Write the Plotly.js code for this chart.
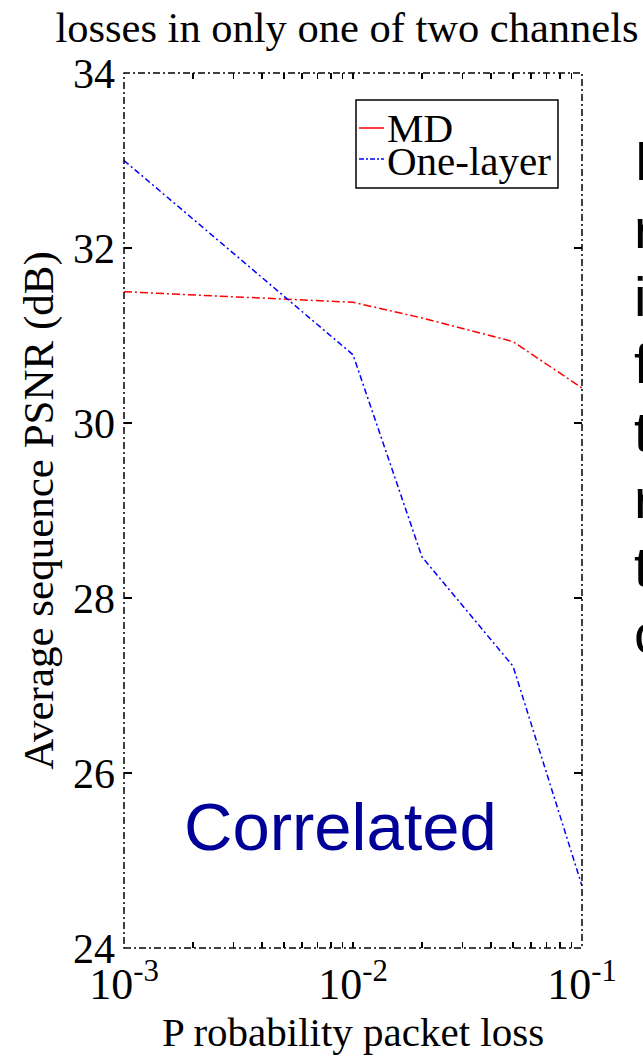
<!DOCTYPE html>
<html>
<head>
<meta charset="utf-8">
<script src="https://cdn.plot.ly/plotly-3.0.1.min.js"></script>
<style>html,body{margin:0;padding:0;background:#fff;}#chart{width:643px;height:1061px;}</style>
</head>
<body>
<div id="chart"></div>
<script>
// ---- data ----
const lossProb = [0.001, 0.01, 0.02, 0.05, 0.1];
const mdPSNR = [31.5, 31.38, 31.2, 30.93, 30.4];
const oneLayerPSNR = [33.0, 30.78, 28.47, 27.22, 24.71];
const seriesNames = ['MD', 'One-layer'];
const yTickVals = [24, 26, 28, 30, 32, 34];
const xMajorTicks = [0.001, 0.01, 0.1];
const xMajorLabels = ['10<sup>-3</sup>', '10<sup>-2</sup>', '10<sup>-1</sup>'];
const sideLetters = ['I', 'r', 'i', 'f', 't', 'r', 't', 'c'];

// ---- layout geometry (pixels) ----
const W = 643, H = 1061;
const M = {l: 124, r: 61, t: 73, b: 113};
const PW = W - M.l - M.r, PH = H - M.t - M.b;
const px = x => (x - M.l) / PW;
const py = y => (H - M.b - y) / PH;

// x ticks: all log minor positions, labels only on decades
const xTickVals = [], xTickText = [];
[0.001, 0.01].forEach(d => {
  for (let k = 1; k <= 9; k++) {
    const v = d * k;
    xTickVals.push(v);
    const idx = xMajorTicks.findIndex(m => Math.abs(m - v) < 1e-12);
    xTickText.push(idx >= 0 ? xMajorLabels[idx] : '');
  }
});
xTickVals.push(0.1); xTickText.push(xMajorLabels[2]);

const serif = 'Liberation Serif, Times New Roman, serif';
const dashdot = '8px,3px,2px,3px';

const traces = [
  {x: lossProb, y: mdPSNR, name: seriesNames[0], mode: 'lines', showlegend: false,
   line: {color: '#ff0000', width: 1.5, dash: dashdot}},
  {x: lossProb, y: oneLayerPSNR, name: seriesNames[1], mode: 'lines', showlegend: false,
   line: {color: '#0000ff', width: 1.5, dash: '6px,3px,2px,3px'}}
];

const shapes = [
  // dash-dot frame
  {type: 'rect', xref: 'paper', yref: 'paper', x0: 0, x1: 1, y0: 0, y1: 1,
   line: {color: '#000', width: 1.5, dash: '7px,3px,2px,3px'}},
  // legend box
  {type: 'rect', xref: 'paper', yref: 'paper', x0: px(356), x1: px(558), y0: py(188), y1: py(100),
   line: {color: '#000', width: 1.5}, fillcolor: 'rgba(255,255,255,1)', layer: 'above'},
  {type: 'line', xref: 'paper', yref: 'paper', x0: px(359), x1: px(384), y0: py(128), y1: py(128),
   line: {color: '#ff0000', width: 1.5}},
  {type: 'line', xref: 'paper', yref: 'paper', x0: px(359), x1: px(384), y0: py(159), y1: py(159),
   line: {color: '#0000ff', width: 1.5, dash: '5px,2px,2px,2px'}}
];

const annotations = [
  {text: seriesNames[0], xref: 'paper', yref: 'paper', x: px(385), y: py(128), xanchor: 'left', yanchor: 'middle',
   showarrow: false, font: {family: serif, size: 41, color: '#000'}},
  {text: seriesNames[1], xref: 'paper', yref: 'paper', x: px(385), y: py(161), xanchor: 'left', yanchor: 'middle',
   showarrow: false, font: {family: serif, size: 41, color: '#000'}},
  {text: 'Correlated', xref: 'paper', yref: 'paper', x: px(340), y: py(826), xanchor: 'center', yanchor: 'middle',
   showarrow: false, font: {family: 'Liberation Sans, Arial, sans-serif', size: 67, color: '#000099'}}
];
const baselines = [179, 247, 315, 383, 450, 517, 585, 652];
sideLetters.forEach((ch, i) => {
  annotations.push({text: ch, xref: 'paper', yref: 'paper', x: px(632), y: py(baselines[i] - 19),
    xanchor: 'left', yanchor: 'middle', showarrow: false,
    font: {family: 'Liberation Sans, Arial, sans-serif', size: 56, color: '#000'}});
});

const layout = {
  width: W, height: H,
  margin: M,
  paper_bgcolor: '#fff', plot_bgcolor: '#fff',
  showlegend: false,
  title: {text: 'losses in only one of two channels', x: px(347), xref: 'paper', xanchor: 'center',
          y: 1 - 27 / H, yref: 'container', yanchor: 'middle',
          font: {family: serif, size: 42.5, color: '#000'}},
  xaxis: {
    type: 'log', range: [-3, -1],
    tickmode: 'array', tickvals: xTickVals, ticktext: xTickText,
    ticks: 'inside', ticklen: 6, tickwidth: 1.5, tickcolor: '#000', mirror: 'allticks',
    showline: false, showgrid: false, zeroline: false,
    tickfont: {family: serif, size: 44, color: '#000'},
    ticklabelstandoff: 6,
    title: {text: 'P robability packet loss', font: {family: serif, size: 41, color: '#000'}, standoff: 6}
  },
  yaxis: {
    range: [24, 34],
    tickmode: 'array', tickvals: yTickVals,
    ticks: 'inside', ticklen: 8, tickwidth: 1.5, tickcolor: '#000', mirror: 'allticks',
    showline: false, showgrid: false, zeroline: false,
    tickfont: {family: serif, size: 42, color: '#000'},
    ticklabelstandoff: 8,
    title: {text: 'Average sequence PSNR (dB)', font: {family: serif, size: 43, color: '#000'}, standoff: 5}
  },
  shapes: shapes,
  annotations: annotations
};

Plotly.newPlot('chart', traces, layout, {staticPlot: true, displayModeBar: false});
</script>
</body>
</html>
